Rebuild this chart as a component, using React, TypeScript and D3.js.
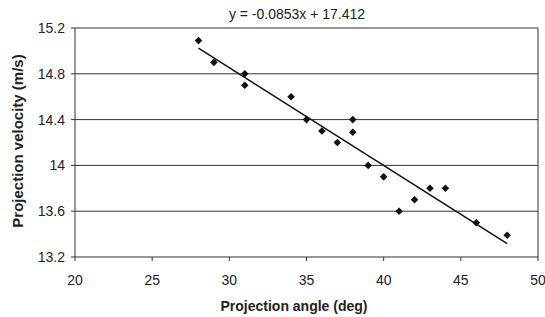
import React from "react";
import * as d3 from "d3";

const angles = [28, 29, 31, 31, 34, 35, 36, 37, 38, 38, 39, 40, 41, 42, 43, 44, 46, 48];
const velocities = [15.09, 14.9, 14.8, 14.7, 14.6, 14.4, 14.3, 14.2, 14.4, 14.29, 14.0, 13.9, 13.6, 13.7, 13.8, 13.8, 13.5, 13.39];
const xTicks = [20, 25, 30, 35, 40, 45, 50];
const yTicks = [13.2, 13.6, 14, 14.4, 14.8, 15.2];
const slope = -0.0853;
const intercept = 17.412;
const trendRange = [28, 48];

const W = 545;
const H = 317;
const M = { left: 75, right: 7, top: 28, bottom: 60 };

export default function App() {
  const x = d3.scaleLinear().domain([20, 50]).range([M.left, W - M.right]);
  const y = d3.scaleLinear().domain([13.2, 15.2]).range([H - M.bottom, M.top]);
  const font = "'Liberation Sans', Arial, sans-serif";
  const line = d3
    .line<number>()
    .x((d) => x(d))
    .y((d) => y(slope * d + intercept));
  const r = 3.8;
  const diamond = `M0,${-r}L${r},0L0,${r}L${-r},0Z`;

  return (
    <svg
      width={W}
      height={H}
      style={{ position: "absolute", left: 0, top: 0, background: "#fff" }}
      fontFamily={font}
    >
      <rect x={0} y={0} width={W} height={H} fill="#fff" />
      {yTicks.map((t) => (
        <g key={t}>
          <line x1={x(20)} x2={x(50)} y1={y(t)} y2={y(t)} stroke="#333" strokeWidth={1} />
          <line x1={x(20) - 4} x2={x(20)} y1={y(t)} y2={y(t)} stroke="#333" />
          <text x={x(20) - 10} y={y(t) + 5} textAnchor="end" fontSize={14} fill="#222">
            {String(t)}
          </text>
        </g>
      ))}
      <line x1={x(20)} x2={x(20)} y1={y(13.2)} y2={y(15.2)} stroke="#333" />
      <line x1={x(50)} x2={x(50)} y1={y(13.2)} y2={y(15.2)} stroke="#333" />
      {xTicks.map((t) => (
        <g key={t}>
          <line x1={x(t)} x2={x(t)} y1={y(13.2)} y2={y(13.2) + 4} stroke="#333" />
          <text x={x(t)} y={y(13.2) + 28} textAnchor="middle" fontSize={14} fill="#222">
            {String(t)}
          </text>
        </g>
      ))}
      <path d={line(trendRange) as string} stroke="#111" strokeWidth={1.5} fill="none" />
      {angles.map((a, i) => (
        <path key={i} d={diamond} transform={`translate(${x(a)},${y(velocities[i])})`} fill="#111" />
      ))}
      <text x={297} y={19} textAnchor="middle" fontSize={14} fill="#222">
        y = -0.0853x + 17.412
      </text>
      <text x={294} y={311} textAnchor="middle" fontSize={14} fontWeight="bold" fill="#222">
        Projection angle (deg)
      </text>
      <text
        transform={`translate(23,141) rotate(-90)`}
        textAnchor="middle"
        fontSize={15}
        fontWeight="bold"
        fill="#222"
      >
        Projection velocity (m/s)
      </text>
    </svg>
  );
}
